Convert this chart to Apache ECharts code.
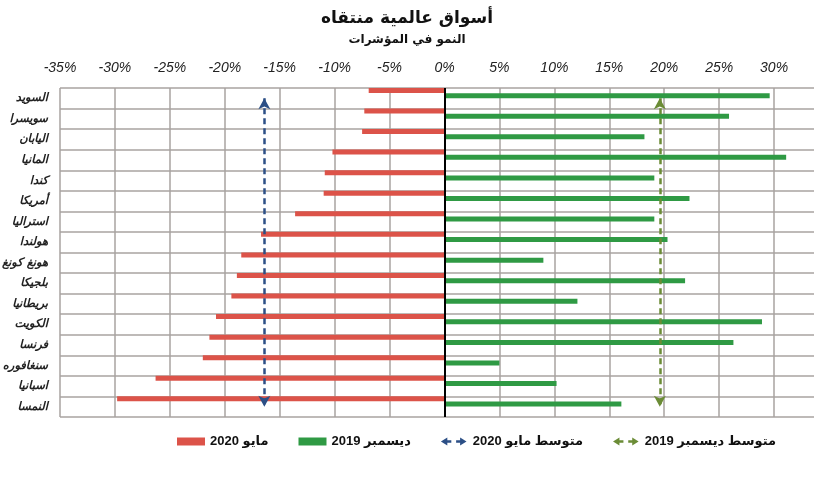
<!DOCTYPE html>
<html>
<head>
<meta charset="utf-8">
<script src="https://cdn.jsdelivr.net/npm/echarts@6/dist/echarts.min.js"></script>
<style>
  html, body { margin: 0; padding: 0; background: #fff; }
  #chart { width: 814px; height: 500px; }
</style>
</head>
<body>
<div id="chart"></div>
<script>
// countries top -> bottom
const countries = ['السويد', 'سويسرا', 'اليابان', 'المانيا', 'كندا', 'أمريكا', 'استراليا', 'هولندا',
  'هونغ كونغ', 'بلجيكا', 'بريطانيا', 'الكويت', 'فرنسا', 'سنغافوره', 'اسبانيا', 'النمسا']
// % growth since May 2020
const may2020 = [-6.9, -7.3, -7.5, -10.2, -10.9, -11.0, -13.6, -16.7,
  -18.5, -18.9, -19.4, -20.8, -21.4, -22.0, -26.3, -29.8]
// % growth since Dec 2019
const dec2019 = [29.6, 25.9, 18.2, 31.1, 19.1, 22.3, 19.1, 20.3,
  9.0, 21.9, 12.1, 28.9, 26.3, 5.0, 10.2, 16.1]
const avgMay2020 = -16.4
const avgDec2019 = 19.6
const axisTicks = [-35, -30, -25, -20, -15, -10, -5, 0, 5, 10, 15, 20, 25, 30, 35]

const RED = '#dc5349'
const GREEN = '#2f9a44'
const BLUE = '#2c4f86'
const OLIVE = '#6b8c36'
const arabicFont = "'DejaVu Sans', 'Noto Sans', sans-serif"
const arrowIcon = 'path://M0,5L8,0V3.5H13V6.5H8V10Z M32,5L24,0V3.5H19V6.5H24V10Z'

const chart = echarts.init(document.getElementById('chart'))

// dashed double arrow from first to last country
function avgLine(value, color) {
  return [
    { coord: [value, countries[0]], lineStyle: { color: color, width: 2.5, type: [6, 4] }, itemStyle: { color: color } },
    { coord: [value, countries[countries.length - 1]] },
  ]
}

const opt = {
  animation: false,
  title: {
    text: 'أسواق عالمية منتقاه',
    subtext: 'النمو في المؤشرات',
    left: 'center',
    top: 5,
    itemGap: 7,
    textStyle: { fontFamily: arabicFont, fontSize: 17, fontWeight: 'bold', color: '#111' },
    subtextStyle: { fontFamily: arabicFont, fontSize: 12, fontWeight: 'bold', color: '#111' },
  },
  legend: {
    top: 430,
    left: 172,
    itemWidth: 28,
    itemHeight: 8,
    itemGap: 30,
    selectedMode: false,
    textStyle: { fontFamily: "'Liberation Sans', " + arabicFont, fontSize: 13, fontWeight: 'bold', color: '#111' },
    data: [
      { name: 'مايو 2020', icon: 'rect' },
      { name: 'ديسمبر 2019', icon: 'rect' },
      { name: 'متوسط مايو 2020', icon: arrowIcon },
      { name: 'متوسط ديسمبر 2019', icon: arrowIcon },
    ],
  },
  grid: { left: 60, right: -15, top: 88, bottom: 83, containLabel: false, outerBoundsMode: 'none' },
  xAxis: {
    type: 'value',
    position: 'top',
    min: axisTicks[0],
    max: axisTicks[axisTicks.length - 1],
    interval: 5,
    axisLine: { show: false },
    axisTick: { show: false },
    axisLabel: {
      margin: 13,
      formatter: '{value}%',
      fontFamily: "'Liberation Sans Narrow', 'Liberation Sans', sans-serif",
      fontStyle: 'italic',
      fontSize: 14,
      color: '#222',
    },
    splitLine: { show: true, lineStyle: { color: '#a9a3a0', width: 1.5 } },
  },
  yAxis: {
    type: 'category',
    inverse: true,
    data: countries,
    axisLine: { show: false, onZero: false },
    axisTick: { show: false },
    axisLabel: {
      margin: 12,
      fontFamily: arabicFont,
      fontStyle: 'italic',
      fontWeight: 'bold',
      fontSize: 11.5,
      color: '#222',
    },
    splitLine: { show: true, lineStyle: { color: '#a9a3a0', width: 1.5 } },
  },
  series: [
    {
      name: 'مايو 2020',
      type: 'bar',
      data: may2020,
      barWidth: 5,
      barGap: '5%',
      itemStyle: { color: RED },
    },
    {
      name: 'ديسمبر 2019',
      type: 'bar',
      data: dec2019,
      barWidth: 5,
      itemStyle: { color: GREEN },
    },
    // empty bar series: legend entries + keep the two real bars in the upper half of each row
    { name: 'متوسط مايو 2020', type: 'bar', data: [], barWidth: 5, itemStyle: { color: BLUE } },
    { name: 'متوسط ديسمبر 2019', type: 'bar', data: [], barWidth: 5, itemStyle: { color: OLIVE } },
    {
      name: 'averages',
      type: 'line',
      data: [],
      markLine: {
        silent: true,
        symbol: ['arrow', 'arrow'],
        symbolSize: [9, 11],
        label: { show: false },
        data: [avgLine(avgMay2020, BLUE), avgLine(avgDec2019, OLIVE)],
      },
    },
    {
      name: 'zero',
      type: 'line',
      data: [],
      markLine: {
        silent: true,
        symbol: 'none',
        label: { show: false },
        lineStyle: { color: '#000', width: 2, type: 'solid' },
        data: [{ xAxis: 0 }],
      },
    },
  ],
}

chart.setOption(opt)
</script>
</body>
</html>
